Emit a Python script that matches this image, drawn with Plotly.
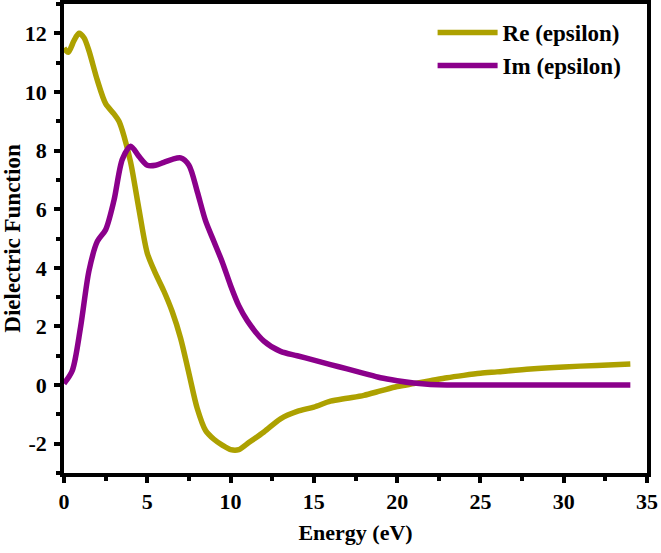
import plotly.graph_objects as go

energy_re = [0, 0.25, 0.6, 0.9, 1.2, 1.5, 2.0, 2.5, 3.0, 3.3, 3.6, 4.0, 4.5, 5.0, 5.5, 6.0, 6.5, 7.0, 7.5, 8.0, 8.5,
             9.0, 9.5, 10.0, 10.5, 11.0, 12.0, 13.0, 14.0, 15.0, 16.0, 17.0, 18.0, 19.0, 20.0, 21.0, 22.0,
             23.0, 24.0, 25.0, 26.0, 28.0, 30.0, 32.0, 34.0]
re_eps = [11.5, 11.35, 11.75, 12.0, 11.85, 11.4, 10.4, 9.6, 9.25, 9.0, 8.5, 7.6, 6.0, 4.5, 3.8, 3.2, 2.5, 1.6, 0.4, -0.8, -1.55,
          -1.85, -2.05, -2.2, -2.2, -2.0, -1.6, -1.15, -0.9, -0.75, -0.55, -0.45, -0.35, -0.2, -0.05, 0.05, 0.15,
          0.25, 0.33, 0.4, 0.45, 0.55, 0.62, 0.67, 0.72]

energy_im = [0, 0.5, 1.0, 1.5, 2.0, 2.5, 3.0, 3.5, 4.0, 4.5, 5.0, 5.5, 6.0, 6.5, 7.0, 7.5, 8.0, 8.5, 9.0, 9.5,
             10.0, 10.5, 11.0, 12.0, 13.0, 14.0, 15.0, 16.0, 17.0, 18.0, 19.0, 20.0, 21.0, 22.0, 23.0, 25.0,
             28.0, 31.0, 34.0]
im_eps = [0.05, 0.5, 2.0, 3.9, 4.9, 5.3, 6.3, 7.7, 8.15, 7.8, 7.5, 7.5, 7.6, 7.7, 7.75, 7.5, 6.6, 5.6, 4.9, 4.2,
          3.4, 2.7, 2.2, 1.5, 1.15, 1.0, 0.85, 0.7, 0.55, 0.4, 0.25, 0.15, 0.07, 0.02, 0.0, 0.0,
          0.0, 0.0, 0.0]

x_ticks = [0, 5, 10, 15, 20, 25, 30, 35]
y_ticks = [-2, 0, 2, 4, 6, 8, 10, 12]

FONT = "Liberation Serif"

fig = go.Figure()
fig.add_trace(go.Scatter(x=energy_re, y=re_eps, mode="lines", name="<b>Re (epsilon)</b>",
                         line=dict(color="#ADA100", width=5.5, shape="spline", smoothing=0.8)))
fig.add_trace(go.Scatter(x=energy_im, y=im_eps, mode="lines", name="<b>Im (epsilon)</b>",
                         line=dict(color="#8B008B", width=5.5, shape="spline", smoothing=0.8)))

axis_common = dict(showline=True, linecolor="black", linewidth=3.5, mirror=True, ticks="outside",
                   tickwidth=3.5, ticklen=6, tickcolor="black", showgrid=False, zeroline=False,
                   automargin=False,
                   tickfont=dict(family=FONT, size=22, color="black"))

fig.update_xaxes(range=[0, 35], tickvals=x_ticks,
                 ticktext=["<b>%d</b>" % v for v in x_ticks],
                 ticklabelstandoff=0,
                 minor=dict(ticks="outside", tickvals=[2.5, 7.5, 12.5, 17.5, 22.5, 27.5, 32.5],
                            ticklen=4, tickwidth=3.5, tickcolor="black"),
                 title=dict(text="<b>Energy (eV)</b>", font=dict(family=FONT, size=22, color="black"), standoff=12),
                 **axis_common)
fig.update_yaxes(range=[-3, 13], tickvals=y_ticks,
                 ticktext=["<b>%d</b>" % v for v in y_ticks],
                 ticklabelstandoff=3,
                 minor=dict(ticks="outside", tickvals=[-3, -1, 1, 3, 5, 7, 9, 11, 13],
                            ticklen=4, tickwidth=3.5, tickcolor="black"),
                 title=dict(text="<b>Dielectric Function</b>", font=dict(family=FONT, size=23, color="black"), standoff=10),
                 **axis_common)

fig.update_layout(
    width=661, height=553,
    margin=dict(l=64, r=14, t=4, b=80),
    plot_bgcolor="white", paper_bgcolor="white",
    legend=dict(x=0.965, y=0.985, xanchor="right", yanchor="top", bgcolor="rgba(0,0,0,0)",
                font=dict(family=FONT, size=23, color="black"), itemwidth=60, tracegroupgap=0),
    showlegend=True,
)

fig.write_html("out.html", config={"displayModeBar": False},
               post_script="document.body.style.margin='0';document.body.style.overflow='hidden';")
